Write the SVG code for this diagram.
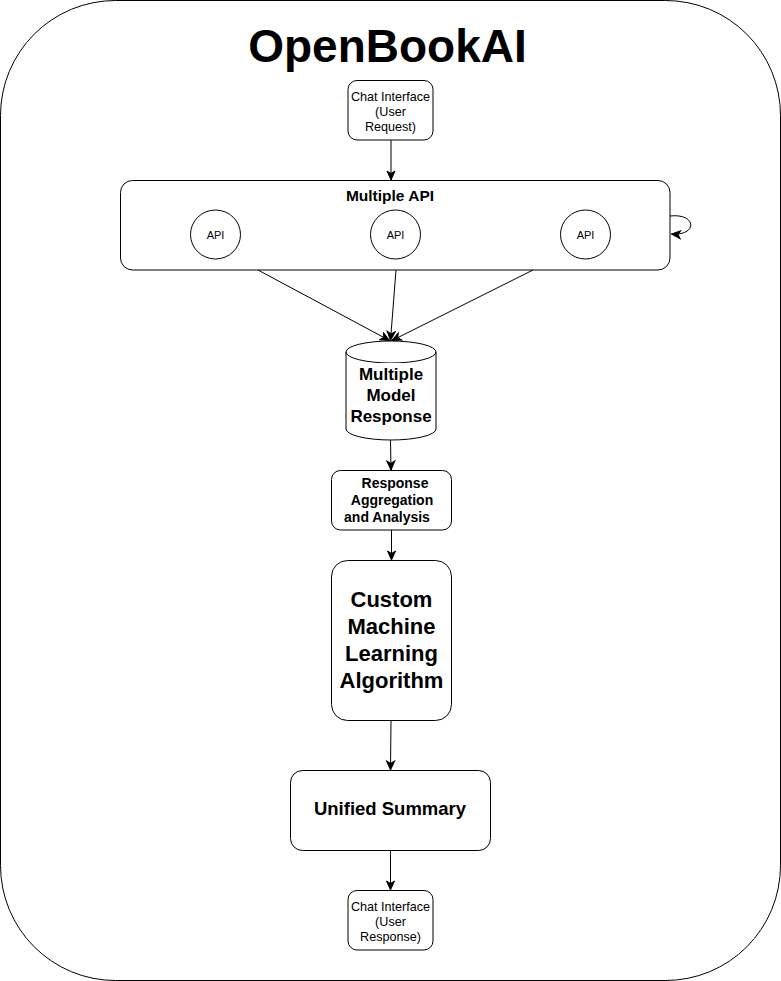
<svg xmlns="http://www.w3.org/2000/svg" width="781" height="981" viewBox="0 0 781 981">
<style>
.box{fill:#fff;stroke:#000;stroke-width:1}
.t{font-family:"Liberation Sans",Arial,Helvetica,sans-serif;fill:#000;text-anchor:middle}
.b{font-weight:bold}
.edge{fill:none;stroke:#000;stroke-width:1;marker-end:url(#arr)}
</style>
<defs>
<marker id="arr" markerUnits="userSpaceOnUse" viewBox="-10 -5 11 10" refX="0" refY="0" markerWidth="11" markerHeight="10" orient="auto">
<path d="M0,0 L-9,-4 L-6.5,0 L-9,4 Z" fill="#000" stroke="#000" stroke-width="1" stroke-linejoin="miter"/>
</marker>
</defs>
<rect width="781" height="981" fill="#fff"/>
<g id="frame">
<rect x="0.5" y="0.5" width="780" height="980" rx="115" ry="115" class="box"/>
<text x="387.5" y="62" class="t b" font-size="46">OpenBookAI</text>
</g>
<g id="chat-request">
<rect x="348" y="80.5" width="85" height="59.5" rx="9" class="box"/>
<text class="t" font-size="12.6"><tspan x="390.5" y="101">Chat Interface</tspan><tspan x="390.5" y="116">(User</tspan><tspan x="390.5" y="131">Request)</tspan></text>
</g>
<g id="multiple-api">
<rect x="120.5" y="180.5" width="549.5" height="89.5" rx="12" class="box"/>
<text x="390" y="201" class="t b" font-size="15.5">Multiple API</text>
</g>
<g id="api-1">
<ellipse cx="215.5" cy="234.5" rx="25" ry="24.5" class="box"/>
<text x="215.5" y="238.5" class="t" font-size="11">API</text>
</g>
<g id="api-2">
<ellipse cx="395.5" cy="234.5" rx="25" ry="24.5" class="box"/>
<text x="395.5" y="238.5" class="t" font-size="11">API</text>
</g>
<g id="api-3">
<ellipse cx="585.5" cy="234.5" rx="25" ry="24.5" class="box"/>
<text x="585.5" y="238.5" class="t" font-size="11">API</text>
</g>
<g id="model-response">
<path d="M346,352 A45,11 0 0 1 436,352 L436,429 A45,11 0 0 1 346,429 Z" class="box"/>
<path d="M346,352 A45,11 0 0 0 436,352" fill="none" stroke="#000" stroke-width="1"/>
<rect x="349" y="363" width="84" height="65" fill="#fff"/>
<text class="t b" font-size="17"><tspan x="391" y="380">Multiple</tspan><tspan x="391" y="401">Model</tspan><tspan x="391" y="422">Response</tspan></text>
</g>
<g id="aggregation">
<rect x="331.5" y="470.5" width="120" height="59.5" rx="9" class="box"/>
<text class="t b" font-size="14"><tspan x="395" y="488">Response</tspan><tspan x="392" y="505">Aggregation</tspan><tspan x="387" y="522">and Analysis</tspan></text>
</g>
<g id="custom-ml">
<rect x="331.5" y="560.5" width="120" height="160" rx="16" class="box"/>
<text class="t b" font-size="22"><tspan x="391.5" y="607">Custom</tspan><tspan x="391.5" y="634">Machine</tspan><tspan x="391.5" y="661">Learning</tspan><tspan x="391.5" y="688">Algorithm</tspan></text>
</g>
<g id="unified-summary">
<rect x="290.5" y="770.5" width="200" height="80" rx="12" class="box"/>
<text x="390" y="815" class="t b" font-size="18.5">Unified Summary</text>
</g>
<g id="chat-response">
<rect x="348" y="890.5" width="85" height="59.5" rx="9" class="box"/>
<text class="t" font-size="12.6"><tspan x="390.5" y="911">Chat Interface</tspan><tspan x="390.5" y="926">(User</tspan><tspan x="390.5" y="941">Response)</tspan></text>
</g>
<g id="connectors">
<path d="M391,140 L391,180" class="edge"/>
<path d="M670,216 C697,213 698,236 671.5,234" class="edge"/>
<path d="M258,270 L389.5,340.5" class="edge"/>
<path d="M396,270 L390.5,340.5" class="edge"/>
<path d="M533,270 L392,340.5" class="edge"/>
<path d="M390.5,440 L391,470" class="edge"/>
<path d="M391.5,530 L391.5,560" class="edge"/>
<path d="M391,720.5 L390.5,770" class="edge"/>
<path d="M390.5,850.5 L390.5,890" class="edge"/>
</g>
</svg>
